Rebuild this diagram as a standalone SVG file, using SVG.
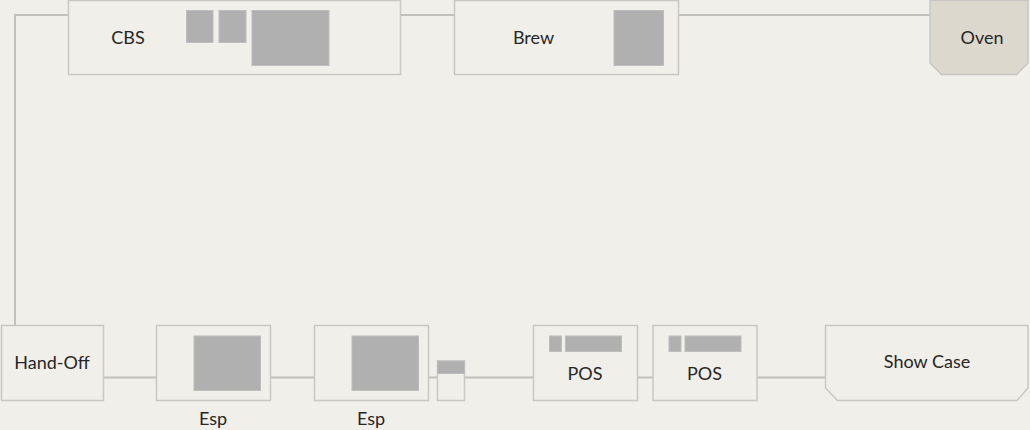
<svg xmlns="http://www.w3.org/2000/svg" width="1030" height="430" viewBox="0 0 1030 430">
<style>
.box{fill:#f1efea;stroke:#c9c7c3;stroke-width:1.5}
.oven{fill:#ddd8ce;stroke:#c9c7c3;stroke-width:1.5}
.blk{fill:#b0b0b0;stroke:#bdbdbd;stroke-width:1}
.ln{fill:none;stroke:#c2c0bb;stroke-width:2}
text{font-family:Lato,"Liberation Sans",sans-serif;font-size:18px;fill:#262626;text-anchor:middle}
</style>
<rect width="1030" height="430" fill="#f1efea"/>
<g id="connectors">
<polyline class="ln" points="68,15 15,15 15,326"/>
<line class="ln" x1="400" y1="15" x2="454" y2="15"/>
<line class="ln" x1="678" y1="15" x2="930" y2="15"/>
<line class="ln" x1="103" y1="377.5" x2="157" y2="377.5"/>
<line class="ln" x1="270" y1="377.5" x2="315" y2="377.5"/>
<line class="ln" x1="428" y1="377.5" x2="437" y2="377.5"/>
<line class="ln" x1="464" y1="377.5" x2="533" y2="377.5"/>
<line class="ln" x1="637" y1="377.5" x2="653" y2="377.5"/>
<line class="ln" x1="757" y1="377.5" x2="825" y2="377.5"/>
</g>
<g id="cbs">
<rect class="box" x="68.5" y="0.5" width="332" height="74"/>
<rect class="blk" x="186.5" y="10.5" width="26.5" height="32"/>
<rect class="blk" x="219" y="10.5" width="27" height="32"/>
<rect class="blk" x="252" y="10.5" width="77" height="55"/>
<text x="128" y="43.5">CBS</text>
</g>
<g id="brew">
<rect class="box" x="454.5" y="0.5" width="224" height="74"/>
<rect class="blk" x="614" y="10.5" width="49.5" height="55"/>
<text x="533.5" y="43.5">Brew</text>
</g>
<g id="oven">
<path class="oven" d="M930,0.5 H1028 V63 L1016.5,74.5 H941.5 L930,63 Z"/>
<text x="982" y="43.5">Oven</text>
</g>
<g id="handoff">
<rect class="box" x="1.5" y="325.5" width="102" height="75"/>
<text x="52" y="369">Hand-Off</text>
</g>
<g id="esp1">
<rect class="box" x="156.5" y="325.5" width="114" height="75"/>
<rect class="blk" x="194" y="336" width="66.5" height="54.5"/>
<text x="213" y="425">Esp</text>
</g>
<g id="esp2">
<rect class="box" x="314.5" y="325.5" width="114" height="75"/>
<rect class="blk" x="352" y="336" width="66.5" height="54.5"/>
<text x="371" y="425">Esp</text>
</g>
<g id="small">
<rect class="box" x="437.5" y="361" width="27" height="39.5"/>
<rect class="blk" x="437.5" y="361" width="27" height="12.5"/>
</g>
<g id="pos1">
<rect class="box" x="533.5" y="325.5" width="104" height="75"/>
<rect class="blk" x="549.5" y="336" width="12" height="15.5"/>
<rect class="blk" x="565.5" y="336" width="56" height="15.5"/>
<text x="585" y="379.5">POS</text>
</g>
<g id="pos2">
<rect class="box" x="653" y="325.5" width="104" height="75"/>
<rect class="blk" x="669" y="336" width="12" height="15.5"/>
<rect class="blk" x="685" y="336" width="56" height="15.5"/>
<text x="704.5" y="379.5">POS</text>
</g>
<g id="showcase">
<path class="box" d="M825.5,325.5 H1028 V388 L1017,400.5 H837.5 L825.5,388 Z"/>
<text x="927" y="367.5">Show Case</text>
</g>
</svg>
